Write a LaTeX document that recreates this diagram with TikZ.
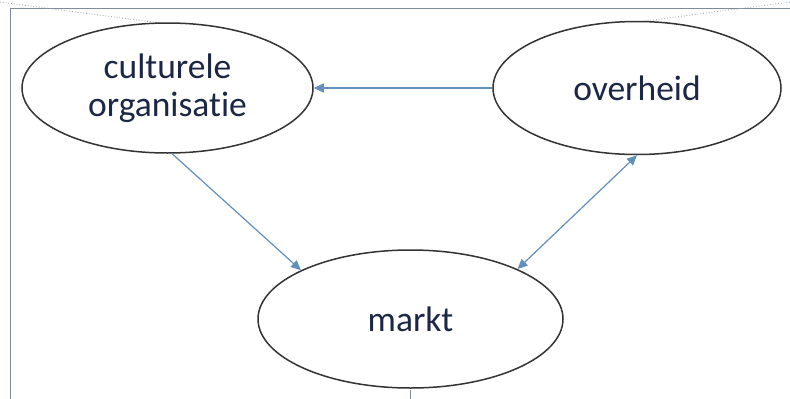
\documentclass[tikz,border=0pt]{standalone}
\usepackage{fontspec}
\setmainfont[Ligatures=NoCommon]{Carlito}
\usetikzlibrary{shapes.geometric,arrows.meta}
\definecolor{inktext}{HTML}{1C2745}
\definecolor{rim}{HTML}{333333}
\definecolor{flow}{HTML}{6190BC}
\definecolor{frame}{HTML}{7E8C99}
\tikzset{
  bubble/.style={ellipse, draw=rim, line width=1.5pt, fill=white, inner sep=0pt,
    text=inktext, align=center, font=\fontsize{35.5}{38}\selectfont},
  link/.style={draw=flow, line width=1.2pt, -{Triangle[length=10pt,width=9pt]}},
  twolink/.style={draw=flow, line width=1.2pt, {Triangle[length=10pt,width=9pt]}-{Triangle[length=10pt,width=9pt]}},
  rule/.style={draw=frame, line width=1pt},
  guide/.style={draw=frame!80, line width=0.8pt, dotted}
}
\begin{document}
\begin{tikzpicture}[x=1pt,y=-1pt]
  \useasboundingbox (0,0) rectangle (790,399);
  % frame
  \coordinate (tl) at (10,8);
  \coordinate (tr) at (790,8);
  \coordinate (bl) at (10,399);
  \draw[rule] (bl) -- (tl) -- (tr);
  % guide lines from the corners
  \coordinate (g1) at (0,2);
  \coordinate (g2) at (175,25);
  \coordinate (g3) at (790,2);
  \coordinate (g4) at (615,25);
  \draw[guide] (g1) -- (g2);
  \draw[guide] (g3) -- (g4);
  % small tick below the bottom ellipse
  \coordinate (t1) at (410,390);
  \coordinate (t2) at (410,399);
  \draw[frame, line width=0.8pt] (t1) -- (t2);
  % ellipses
  \node[bubble, minimum width=291pt, minimum height=130pt] (cult) at (167.5,88) {culturele\\organisatie};
  \node[bubble, minimum width=288pt, minimum height=133pt] (over) at (637,88) {overheid};
  \node[bubble, minimum width=305pt, minimum height=138pt] (markt) at (410.5,319) {markt};
  % connectors
  \draw[link] (over.west) -- (cult.east);
  \draw[link] (cult.-86) -- (markt.156);
  \draw[twolink] (over.-90) -- (markt.25);
\end{tikzpicture}
\end{document}
